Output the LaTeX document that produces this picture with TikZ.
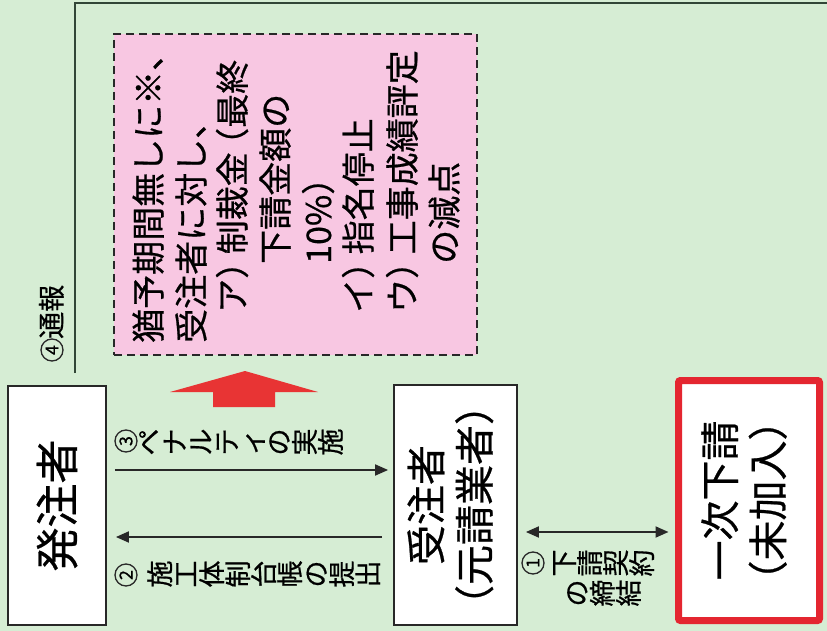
\documentclass[tikz,border=0pt]{standalone}
\usepackage{fontspec}
\setmainfont{Noto Sans CJK JP}[FakeBold=0.6]
\usetikzlibrary{arrows.meta}
\definecolor{bg}{RGB}{214,237,212}
\definecolor{pinkbox}{RGB}{248,199,226}
\definecolor{redarrow}{RGB}{232,52,52}
\definecolor{redbox}{RGB}{228,38,48}
\definecolor{ink}{RGB}{40,40,40}
\definecolor{framecol}{RGB}{50,70,55}
\newcommand\rpar{\makebox[0.72em][l]{）}}
\newcommand\lpar{\makebox[0.72em][r]{（}}
\begin{document}
\begin{tikzpicture}[x=1pt,y=-1pt,
  box/.style={draw=ink, line width=1.8pt, fill=white, inner sep=0pt},
  conn/.style={draw=ink, line width=1.8pt},
  arr/.style={conn, -{Triangle[length=13pt,width=11pt]}},
  darr/.style={conn, {Triangle[length=13pt,width=11pt]}-{Triangle[length=13pt,width=11pt]}},
  pinktext/.style={rotate=90, anchor=west, inner sep=0pt, font=\fontsize{34}{34}\selectfont, text height=30pt, text depth=4pt},
  tate/.style={rotate=90, anchor=north, inner sep=0pt, align=center, font=\fontsize{27}{26}\selectfont},
  cnode/.style={circle, draw=ink, line width=1.3pt, minimum size=22pt, inner sep=0pt, rotate=90, font=\fontsize{18}{18}\selectfont},
]
\fill[bg] (0,0) rectangle (827,631);
\useasboundingbox (0,0) rectangle (827,631);

% frame line (4 report)
\coordinate (f1) at (75,373);
\coordinate (f2) at (75,3);
\coordinate (f3) at (827,3);
\draw[line width=1.8pt, draw=framecol] (f1) -- (f2) -- (f3);
\node[cnode] (c4) at (52,350) {4};
\node[rotate=90, anchor=west, inner sep=0pt, font=\fontsize{27}{27}\selectfont, text height=23pt, text depth=4pt] (report) at (52,339) {通報};

% penalty box
\node[draw=ink, dash pattern=on 8pt off 5pt, line width=2pt, fill=pinkbox,
      minimum width=363pt, minimum height=321pt, inner sep=0pt] (pen) at (295.5,194.5) {};
\node[pinktext] (p1) at (148,343) {猶予期間無しに※、};
\node[pinktext] (p2) at (191,343) {受注者に対し、};
\node[pinktext] (p3) at (232,313) {ア\rpar 制裁金\lpar 最終};
\node[pinktext] (p4) at (275,264) {下請金額の};
\node[pinktext] (p5) at (318,264) {10\%\rpar};
\node[pinktext] (p6) at (358,313) {イ\rpar 指名停止};
\node[pinktext] (p7) at (402,313) {ウ\rpar 工事成績評定};
\node[pinktext] (p8) at (444,264) {の減点};

% red up arrow
\fill[redarrow] (213,407) -- (275,407) -- (275,392) -- (318,392) -- (245,371) -- (170,392) -- (213,392) -- cycle;

% boxes
\node[box, minimum width=98pt, minimum height=239pt] (hatchu) at (57,505.5)
  {\rotatebox{90}{\fontsize{44}{44}\selectfont 発注者}};
\node[box, minimum width=123pt, minimum height=238pt] (juchu) at (455.5,505)
  {\rotatebox{90}{\fontsize{40}{47}\selectfont\begin{tabular}{@{}c@{}}受注者\\（元請業者）\end{tabular}}};
\node[draw=redbox, line width=7pt, fill=white, rounded corners=2pt, inner sep=0pt,
      minimum width=141pt, minimum height=240pt] (ichiji) at (749,500.5)
  {\rotatebox{90}{\fontsize{40}{46}\selectfont\begin{tabular}{@{}c@{}}一次下請\\（未加入）\end{tabular}}};

% connectors
\draw[arr, shorten <=8pt, shorten >=5pt] (hatchu.east |- 0,470) -- (juchu.west |- 0,470);
\draw[arr, shorten <=11pt, shorten >=9pt] (juchu.west |- 0,537) -- (hatchu.east |- 0,537);
\draw[darr, shorten <=8pt, shorten >=6.5pt] (juchu.east |- 0,532) -- (ichiji.west |- 0,532);

% connector labels (vertical writing)
\node[cnode] (c3) at (126,441) {3};
\node[tate] (l3) at (139,442) {ペ\\ナ\\ル\\テ\\ィ\\の\\実\\施};
\node[cnode] (c2) at (126,575) {2};
\node[tate] (l2) at (147,574) {施\\工\\体\\制\\台\\帳\\の\\提\\出};
\node[cnode] (c1) at (533,563) {1};
\node[tate] (l1a) at (553,563) {下\\請\\契\\約};
\node[tate] (l1b) at (567,593) {の\\締\\結};
\end{tikzpicture}
\end{document}
